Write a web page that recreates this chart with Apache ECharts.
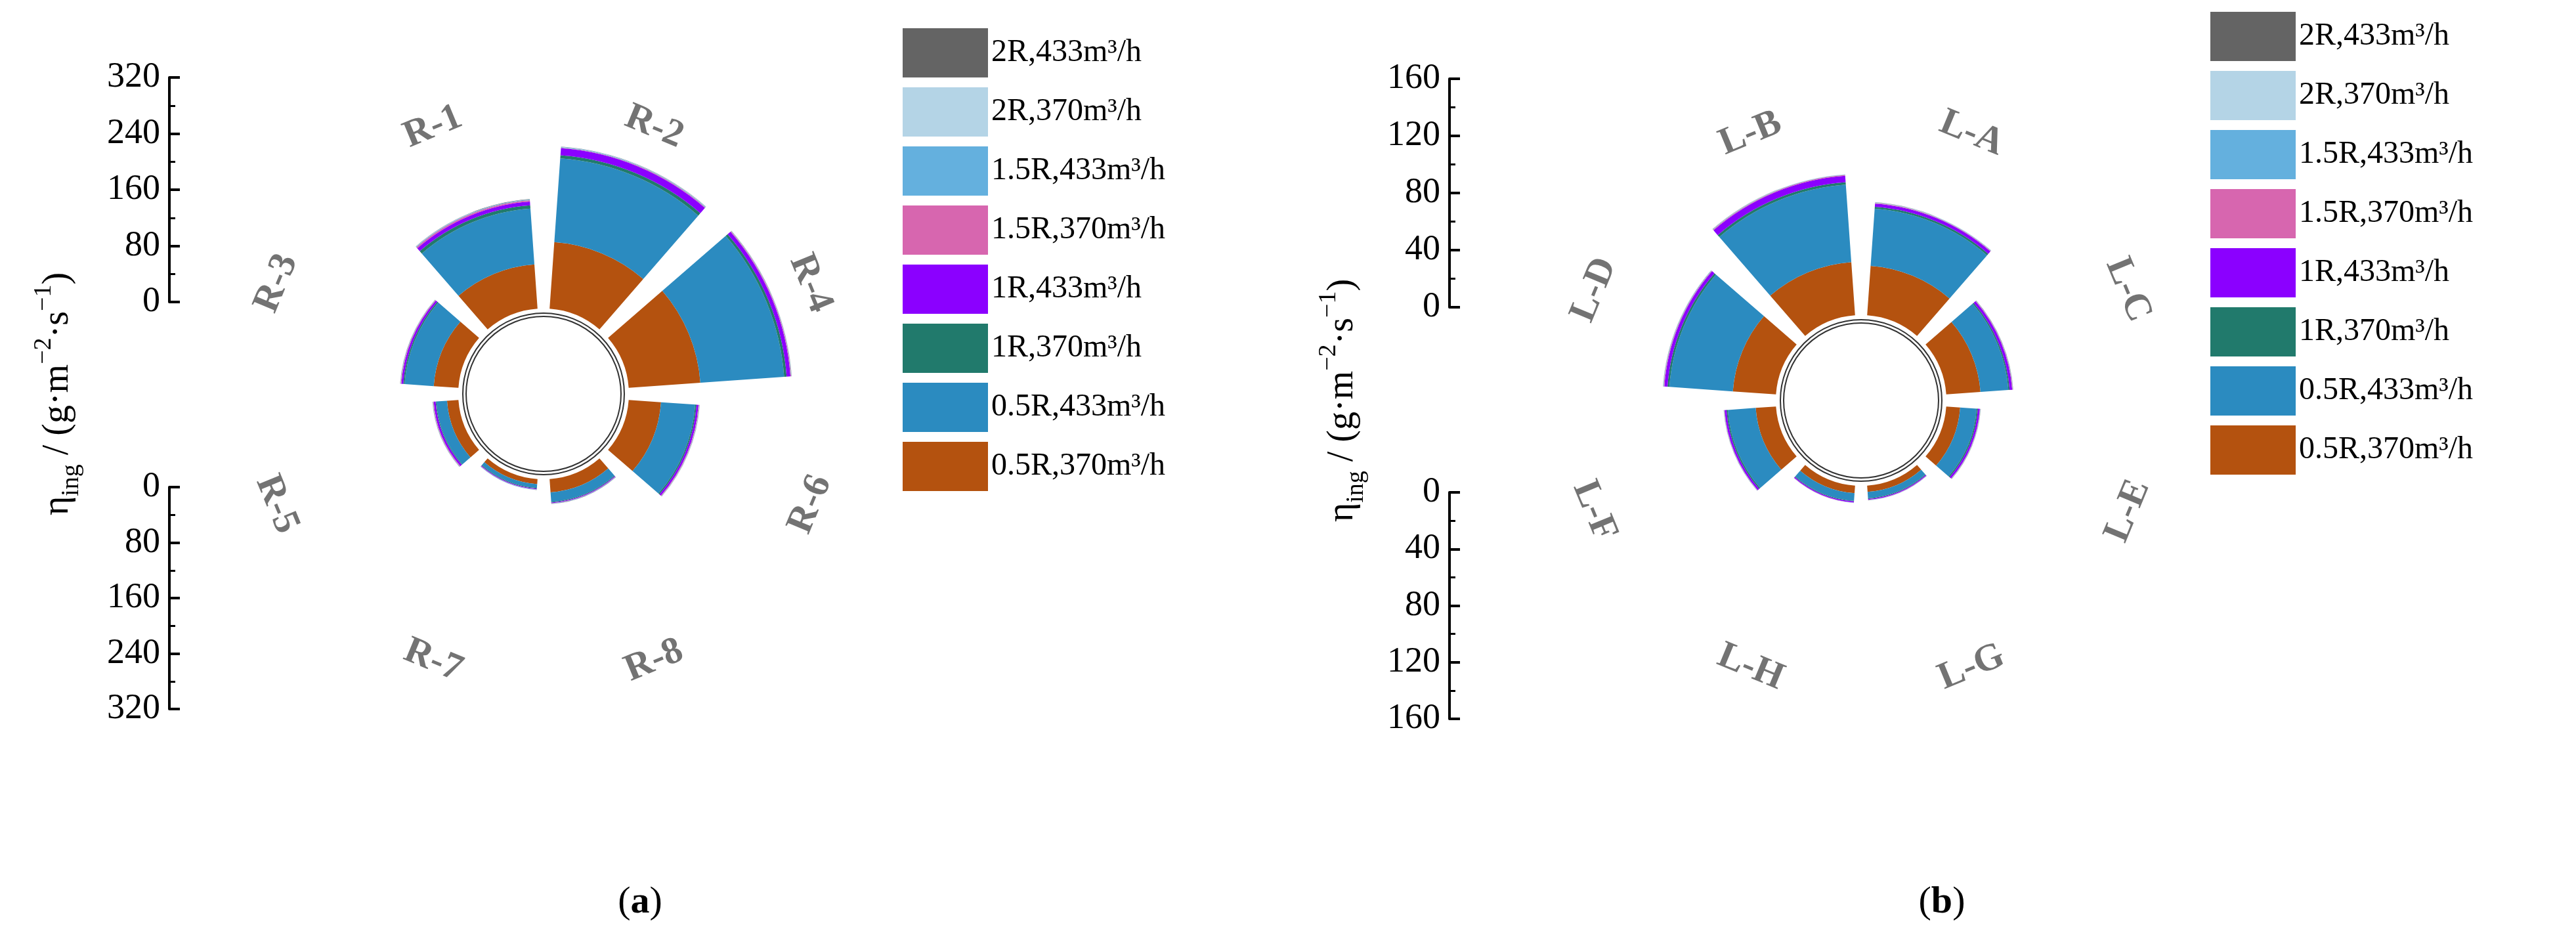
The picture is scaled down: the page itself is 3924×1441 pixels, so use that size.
<!DOCTYPE html>
<html><head><meta charset="utf-8">
<script src="https://cdn.jsdelivr.net/npm/echarts@6/dist/echarts.min.js"></script>
<style>html,body{margin:0;padding:0;background:#fff}#c{width:3924px;height:1441px}</style>
</head><body><div id="c"></div>
<script>
// ---- data ----
const catsA = ['R-2','R-4','R-6','R-8','R-7','R-5','R-3','R-1'];
const catsB = ['L-A','L-C','L-E','L-G','L-H','L-F','L-D','L-B'];
const seriesNames = ['0.5R,370m³/h','0.5R,433m³/h','1R,370m³/h','1R,433m³/h','1.5R,370m³/h','1.5R,433m³/h','2R,370m³/h','2R,433m³/h'];
const colors = ['#b4520f','#2b8bc0','#217a6c','#8b00ff','#d766af','#64b0de','#b4d4e6','#646464'];
// panel (a), inner to outer
const a_05R370 = [105,113,51,21,8,18,39,70];
const a_05R433 = [132,132,54,15,6,17,46,88];
const a_1R370  = [5,4,2,1,1,1,2,5];
const a_1R433  = [11,6,3,1,1,3,3,6];
const a_15R370 = [1,1,1,0.5,0.5,1,1,2];
const a_15R433 = [1,0.5,0.5,0.5,0.5,0.5,0.5,1];
const a_2R370  = [0.5,0.3,0.3,0.2,0.2,0.3,0.3,0.5];
const a_2R433  = [0.3,0.2,0.2,0.1,0.1,0.2,0.2,0.3];
// panel (b)
const b_05R370 = [39,27,11,5,6,16,34,42];
const b_05R433 = [45,22,13,5,6,22,50,61];
const b_1R370  = [1.5,1,1,0.5,0.5,1,1.5,2];
const b_1R433  = [2.5,2,1.5,0.7,0.8,1.5,2.5,5];
const b_15R370 = [0.5,0.4,0.3,0.2,0.2,0.3,0.5,0.6];
const b_15R433 = [0.3,0.2,0.2,0.1,0.1,0.2,0.3,0.3];
const b_2R370  = [0.2,0.1,0.1,0.1,0.1,0.1,0.2,0.2];
const b_2R433  = [0.1,0.1,0.1,0.05,0.05,0.1,0.1,0.1];
const ticksA = [0,80,160,240,320];
const ticksB = [0,40,80,120,160];

const dataA = [a_05R370,a_05R433,a_1R370,a_1R433,a_15R370,a_15R433,a_2R370,a_2R433];
const dataB = [b_05R370,b_05R433,b_1R370,b_1R433,b_15R370,b_15R433,b_2R370,b_2R433];

const FONT = 'Liberation Serif';
const HOLE = 130, SPAN = 310;
const panels = [
  {cx:828, cy:600, cats:catsA, data:dataA, max:320, iv:80, axX:258, nameX:88,
   upTop:118, upH:342, loTop:742, loH:338},
  {cx:2835, cy:610, cats:catsB, data:dataB, max:160, iv:40, axX:2208, nameX:2045,
   upTop:120, upH:348, loTop:750, loH:345}
];

const option = {backgroundColor:'#fff', animation:false,
  polar:[], angleAxis:[], radiusAxis:[], grid:[], xAxis:[], yAxis:[], series:[], legend:[], graphic:[]};

panels.forEach((p,pi)=>{
  option.polar.push({center:[p.cx,p.cy], radius:[HOLE, HOLE+SPAN]});
  option.angleAxis.push({polarIndex:pi, type:'category', data:p.cats, startAngle:90, clockwise:true,
    axisLine:{show:false}, axisTick:{show:false}, axisLabel:{show:false}, splitLine:{show:false}});
  option.radiusAxis.push({polarIndex:pi, min:0, max:p.max, axisLine:{show:false}, axisTick:{show:false},
    axisLabel:{show:false}, splitLine:{show:false}});
  p.data.forEach((d,i)=>{
    option.series.push({type:'bar', name:seriesNames[i], coordinateSystem:'polar', polarIndex:pi,
      stack:'s'+pi, data:d, barCategoryGap:'18%', itemStyle:{color:colors[i]}, silent:true});
  });
  const n = p.cats.length;
  option.series.push({type:'scatter', coordinateSystem:'polar', polarIndex:pi, symbolSize:0, silent:true,
    data:p.cats.map((c,k)=>{
      const th = 90 - (k+0.5)*360/n;
      let rot = th - 90;
      if (th < 0 && th > -180) rot = th + 90;
      if (th <= -180) rot = th + 270;
      return {value:[p.max, c], label:{rotate:rot}};
    }),
    label:{show:true, position:'inside', fontFamily:FONT, fontSize:58, fontWeight:'bold', color:'#505050',
      formatter:(q)=>q.value[1]}
  });
  option.series.push({type:'pie', center:[p.cx,p.cy], radius:[HOLE-12,HOLE-7], silent:true, label:{show:false},
    data:[{value:1, itemStyle:{color:'#fff', borderColor:'#333', borderWidth:2}}]});
  const common = {type:'value', min:0, max:p.max, interval:p.iv, position:'left',
    axisLine:{show:true, lineStyle:{color:'#000', width:4}},
    axisTick:{show:true, inside:true, length:16, lineStyle:{color:'#000', width:4}},
    minorTick:{show:true, splitNumber:2, length:9, lineStyle:{color:'#000', width:3}},
    splitLine:{show:false},
    axisLabel:{fontFamily:FONT, fontSize:54, color:'#000', margin:14}};
  const gi = option.grid.length;
  option.grid.push({left:p.axX, width:1, top:p.upTop, height:p.upH});
  option.grid.push({left:p.axX, width:1, top:p.loTop, height:p.loH});
  option.xAxis.push({gridIndex:gi, show:false, type:'value'});
  option.xAxis.push({gridIndex:gi+1, show:false, type:'value'});
  option.yAxis.push(Object.assign({gridIndex:gi}, common));
  option.yAxis.push(Object.assign({gridIndex:gi+1, inverse:true}, common));
  option.graphic.push({type:'text', x:p.nameX, y:p.cy, rotation:Math.PI/2,
    style:{text:'{n|η}{sub|ing}{n| / (g·m}{sup|−2}{n|·s}{sup|−1}{n|)}', align:'center', verticalAlign:'middle',
      rich:{n:{fontFamily:FONT, fontSize:56, color:'#000', lineHeight:80, verticalAlign:'middle'},
            sub:{fontFamily:FONT, fontSize:38, color:'#000', lineHeight:80, verticalAlign:'bottom'},
            sup:{fontFamily:FONT, fontSize:38, color:'#000', lineHeight:80, verticalAlign:'top'}}}});
});

const legendOrder = seriesNames.slice().reverse();
[[1370,38],[3362,13]].forEach(([x,y])=>{
  option.legend.push({orient:'vertical', left:x, top:y, data:legendOrder, icon:'rect', itemWidth:130, itemHeight:75,
    itemGap:15, selectedMode:false, textStyle:{fontFamily:FONT, fontSize:48, color:'#000'}});
});
[[975,'a'],[2958,'b']].forEach(([x,t])=>{
  option.graphic.push({type:'text', x:x, y:1375, style:{text:'({b|'+t+'})', align:'center', verticalAlign:'middle',
    fontFamily:FONT, fontSize:58, fill:'#000', rich:{b:{fontFamily:FONT, fontSize:58, fontWeight:'bold', color:'#000'}}}});
});

const chart = echarts.init(document.getElementById('c'));
chart.setOption(option);
</script></body></html>
